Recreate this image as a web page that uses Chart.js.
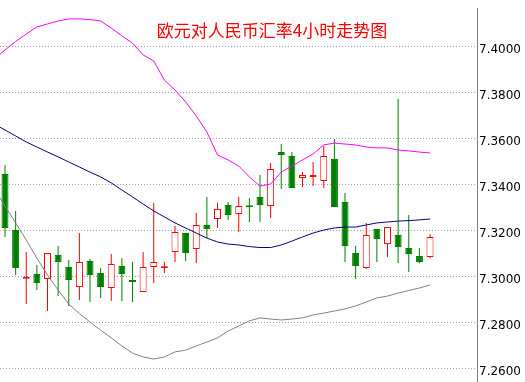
<!DOCTYPE html>
<html><head><meta charset="utf-8">
<script src="https://cdn.jsdelivr.net/npm/chart.js@4.4.1/dist/chart.umd.min.js"></script>
<style>html,body{margin:0;padding:0;background:#fff;overflow:hidden}canvas{display:block}</style>
</head><body>
<canvas id="c" width="525" height="382"></canvas>
<script>
const chartTitle = '欧元对人民币汇率4小时走势图';
const yTickValues = [7.26, 7.28, 7.30, 7.32, 7.34, 7.36, 7.38, 7.40];

// 4-hour candles (oldest -> newest)
const opens  = [7.3446,7.3202,7.2990,7.3011,7.2989,7.3093,7.3041,7.2954,7.3067,7.3015,7.2950,7.3046,7.2985,7.2933,7.3041,7.3037,7.3106,7.3189,7.3120,7.3224,7.3250,7.3311,7.3272,7.3310,7.3346,7.3306,7.3541,7.3524,7.3428,7.3433,7.3415,7.3511,7.3324,7.3102,7.3037,7.3206,7.3141,7.3180,7.3124,7.3089,7.3085];
const highs  = [7.3485,7.3285,7.3107,7.3050,7.3102,7.3133,7.3072,7.3189,7.3076,7.3037,7.3098,7.3080,7.3063,7.3107,7.3320,7.3063,7.3220,7.3189,7.3276,7.3346,7.3322,7.3324,7.3346,7.3341,7.3441,7.3493,7.3576,7.3541,7.3454,7.3498,7.3567,7.3598,7.3363,7.3133,7.3233,7.3206,7.3215,7.3772,7.3267,7.3124,7.3185];
const lows   = [7.3172,7.3007,7.2880,7.2941,7.2850,7.2915,7.2872,7.2898,7.2889,7.2906,7.2893,7.2893,7.2889,7.2933,7.2972,7.3015,7.3063,7.3067,7.3059,7.3167,7.3211,7.3246,7.3193,7.3237,7.3237,7.3254,7.3380,7.3385,7.3389,7.3393,7.3385,7.3302,7.3063,7.2989,7.3033,7.3063,7.3085,7.3059,7.3020,7.3059,7.3080];
const closes = [7.3211,7.3037,7.2998,7.2972,7.3102,7.3063,7.2985,7.3063,7.3007,7.2954,7.3054,7.3011,7.2976,7.3041,7.3063,7.3045,7.3193,7.3102,7.3224,7.3206,7.3294,7.3267,7.3306,7.3302,7.3311,7.3467,7.3528,7.3385,7.3441,7.3441,7.3524,7.3302,7.3133,7.3046,7.3180,7.3163,7.3215,7.3128,7.3098,7.3063,7.3172];

// Bollinger bands, first value belongs to the period before the first visible candle
const bandStart = -1;
const upperBand  = [7.3946,7.3985,7.4022,7.4054,7.4085,7.4098,7.4111,7.4120,7.4120,7.4117,7.4111,7.4080,7.4046,7.4015,7.3963,7.3937,7.3854,7.3811,7.3759,7.3698,7.3628,7.3528,7.3507,7.3480,7.3433,7.3393,7.3402,7.3454,7.3480,7.3507,7.3533,7.3572,7.3580,7.3576,7.3572,7.3563,7.3559,7.3559,7.3550,7.3546,7.3541,7.3537];
const middleBand = [7.3663,7.3637,7.3611,7.3585,7.3563,7.3541,7.3520,7.3498,7.3476,7.3454,7.3433,7.3407,7.3376,7.3346,7.3315,7.3285,7.3259,7.3233,7.3211,7.3189,7.3167,7.3150,7.3141,7.3137,7.3130,7.3126,7.3126,7.3137,7.3154,7.3172,7.3189,7.3202,7.3211,7.3215,7.3215,7.3224,7.3233,7.3237,7.3241,7.3243,7.3246,7.3250];
const lowerBand  = [7.3380,7.3306,7.3233,7.3159,7.3080,7.3006,7.2941,7.2880,7.2839,7.2802,7.2767,7.2733,7.2698,7.2667,7.2650,7.2641,7.2650,7.2672,7.2680,7.2698,7.2715,7.2733,7.2763,7.2785,7.2807,7.2820,7.2815,7.2811,7.2815,7.2820,7.2833,7.2841,7.2850,7.2859,7.2872,7.2889,7.2907,7.2915,7.2928,7.2939,7.2950,7.2963];

const UP = '#ff0000', DOWN = '#008000';
const isUp = opens.map((o, i) => closes[i] >= o);

const bodyData = opens.map((o, i) => ({ x: i, y: [o, closes[i]] }));
const wickData = opens.map((o, i) => ({ x: i, y: [lows[i], highs[i]] }));
const band = arr => arr.map((v, k) => ({ x: k + bandStart, y: v }));

const titlePlugin = {
  id: 'titleText',
  afterDraw(chart) {
    const ctx = chart.ctx;
    ctx.save();
    ctx.font = '17px "Noto Sans CJK SC"';
    ctx.fillStyle = '#ff0000';
    ctx.textAlign = 'center';
    ctx.textBaseline = 'middle';
    ctx.fillText(chartTitle, 272, 31);
    ctx.restore();
  }
};

new Chart(document.getElementById('c'), {
  type: 'bar',
  data: {
    datasets: [
      { type: 'line', data: band(upperBand), borderColor: '#ff00ff', borderWidth: 1, pointRadius: 0, tension: 0, fill: false, order: 0 },
      { type: 'line', data: band(middleBand), borderColor: '#000080', borderWidth: 1, pointRadius: 0, tension: 0, fill: false, order: 0 },
      { type: 'line', data: band(lowerBand), borderColor: '#808080', borderWidth: 1, pointRadius: 0, tension: 0, fill: false, order: 0 },
      { data: bodyData, barThickness: 7, grouped: false, order: 1,
        backgroundColor: isUp.map(u => u ? '#ffffff' : DOWN),
        borderColor: isUp.map(u => u ? UP : DOWN),
        borderWidth: 1, borderSkipped: false, inflateAmount: 0 },
      { data: wickData, barThickness: 1, grouped: false, order: 2,
        backgroundColor: isUp.map(u => u ? UP : DOWN),
        borderWidth: 0, inflateAmount: 0 }
    ]
  },
  options: {
    responsive: false,
    animation: false,
    devicePixelRatio: 1,
    layout: { padding: { top: 8, left: 0, right: 0, bottom: 0 } },
    plugins: { legend: { display: false }, tooltip: { enabled: false } },
    scales: {
      x: { type: 'linear', display: false, offset: false, min: -0.4706, max: 44.423, grid: { offset: false } },
      y: {
        type: 'linear', position: 'right', min: 7.25413, max: 7.41674,
        afterBuildTicks: s => { s.ticks = yTickValues.map(v => ({ value: v })); },
        afterFit: s => { s.width = 48; s.paddingTop = 0; s.paddingBottom = 0; },
        ticks: { padding: 2, labelOffset: 3, color: '#000', font: { family: 'DejaVu Sans', size: 12 },
                 callback: v => Number(v).toFixed(4) },
        grid: { color: '#a0a0a0', drawTicks: false, lineWidth: 1 },
        border: { display: true, color: '#808080', width: 1, dash: [1, 2] }
      }
    }
  },
  plugins: [titlePlugin]
});
</script>
</body></html>
